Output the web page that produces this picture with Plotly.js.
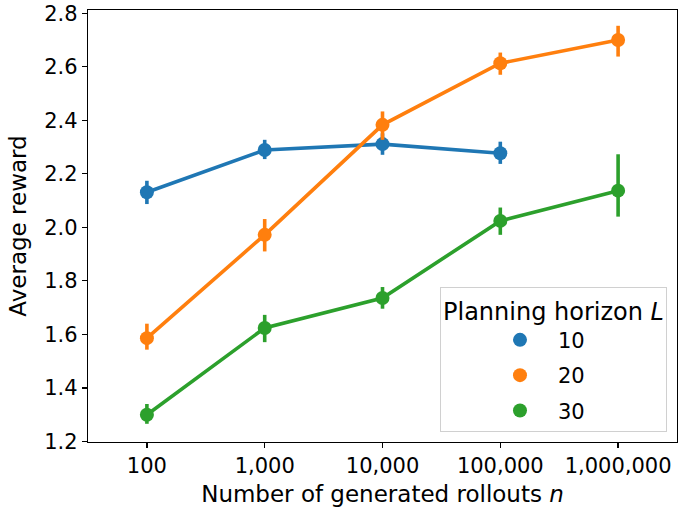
<!DOCTYPE html>
<html>
<head>
<meta charset="utf-8">
<script src="https://cdn.plot.ly/plotly-3.0.1.min.js"></script>
<style>html,body{margin:0;padding:0;background:#fff;}#chart{width:680px;height:510px;}</style>
</head>
<body>
<div id="chart"></div>
<script>
// Data
const categories = ["100", "1,000", "10,000", "100,000", "1,000,000"];
const horizons = ["10", "20", "30"];
const colors = ["#1f77b4", "#ff7f0e", "#2ca02c"];

const meanL10 = [2.131, 2.289, 2.311, 2.277];
const lowL10  = [2.087, 2.255, 2.271, 2.237];
const highL10 = [2.174, 2.327, 2.351, 2.320];

const meanL20 = [1.586, 1.972, 2.383, 2.613, 2.700];
const lowL20  = [1.543, 1.910, 2.327, 2.570, 2.638];
const highL20 = [1.640, 2.031, 2.433, 2.653, 2.753];

const meanL30 = [1.300, 1.624, 1.736, 2.024, 2.137];
const lowL30  = [1.266, 1.571, 1.696, 1.972, 2.040];
const highL30 = [1.340, 1.673, 1.777, 2.074, 2.273];

const series = [
  {mean: meanL10, low: lowL10, high: highL10},
  {mean: meanL20, low: lowL20, high: highL20},
  {mean: meanL30, low: lowL30, high: highL30}
];

const font = "DejaVu Sans, sans-serif";
const traces = [];
series.forEach((s, i) => {
  traces.push({
    type: "scatter",
    mode: "lines+markers",
    x: categories.slice(0, s.mean.length),
    y: s.mean,
    line: {color: colors[i], width: 3.6},
    marker: {color: colors[i], size: 14},
    error_y: {
      type: "data",
      symmetric: false,
      array: s.high.map((h, k) => h - s.mean[k]),
      arrayminus: s.mean.map((m, k) => m - s.low[k]),
      color: colors[i],
      thickness: 3.6,
      width: 0
    },
    showlegend: false,
    hoverinfo: "x+y"
  });
});
// legend-only marker entries
series.forEach((s, i) => {
  traces.push({
    type: "scatter",
    mode: "markers",
    x: [null],
    y: [null],
    name: horizons[i],
    legendgroup: "g" + i,
    marker: {color: colors[i], size: 14},
    showlegend: true
  });
});

const layout = {
  width: 680,
  height: 510,
  margin: {l: 88, r: 3, t: 10, b: 68},
  paper_bgcolor: "#ffffff",
  plot_bgcolor: "#ffffff",
  font: {family: font, size: 22, color: "#000000"},
  xaxis: {
    type: "category",
    range: [-0.5, 4.5],
    showgrid: false,
    zeroline: false,
    showline: true,
    mirror: true,
    linecolor: "#000000",
    linewidth: 1.2,
    ticks: "outside",
    ticklen: 5,
    tickwidth: 1.2,
    tickcolor: "#000000",
    tickfont: {family: font, size: 21},
    title: {text: "Number of generated rollouts <i>n</i>", font: {family: font, size: 23}, standoff: 8}
  },
  yaxis: {
    range: [1.198, 2.812],
    dtick: 0.2,
    tick0: 1.2,
    tickformat: ".1f",
    showgrid: false,
    zeroline: false,
    showline: true,
    mirror: true,
    linecolor: "#000000",
    linewidth: 1.2,
    ticks: "outside",
    ticklen: 5,
    tickwidth: 1.2,
    tickcolor: "#000000",
    tickfont: {family: font, size: 21},
    title: {text: "Average reward", font: {family: font, size: 23}, standoff: 11}
  },
  legend: {
    x: 0.983,
    y: 0.022,
    xanchor: "right",
    yanchor: "bottom",
    bgcolor: "rgba(255,255,255,0.8)",
    bordercolor: "#d0d0d0",
    borderwidth: 1,
    font: {family: font, size: 21},
    itemwidth: 66,
    indentation: 41,
    tracegroupgap: 5,
    title: {text: "Planning horizon <i>L</i>", side: "top center", font: {family: font, size: 24}}
  },
  showlegend: true
};

Plotly.newPlot("chart", traces, layout, {displayModeBar: false, staticPlot: true});
</script>
</body>
</html>
